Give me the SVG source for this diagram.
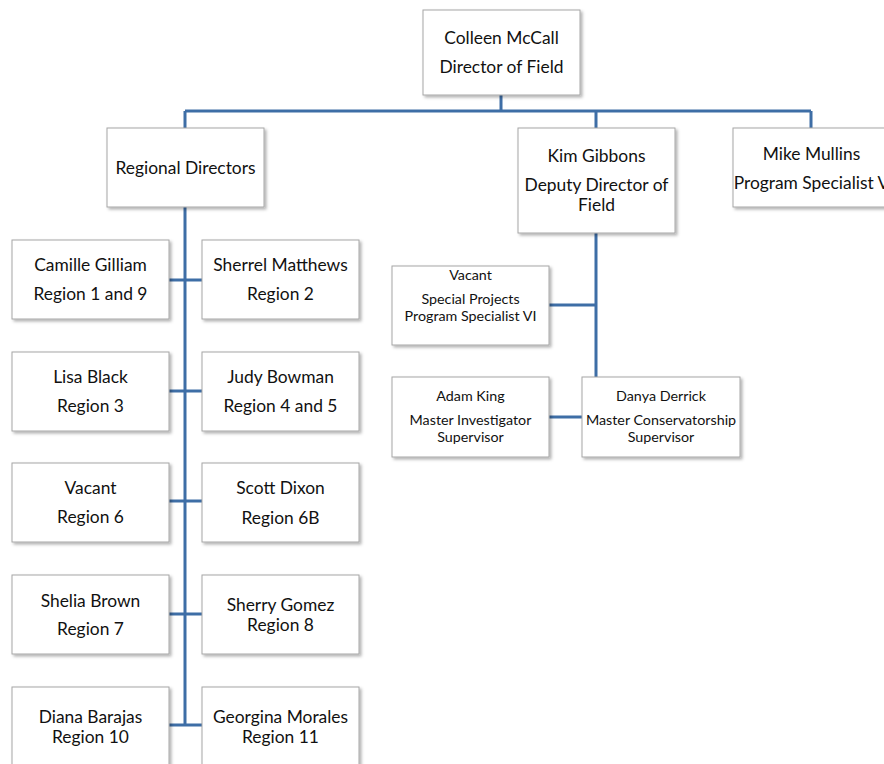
<svg xmlns="http://www.w3.org/2000/svg" width="884" height="764" viewBox="0 0 884 764">
<style>
.box{fill:#fff;stroke:#a6a6a6;stroke-width:1;filter:url(#sh)}
.t{font-family:Lato,"Liberation Sans",sans-serif;font-size:17.4px;fill:#111;text-anchor:middle}
.s{font-family:Lato,"Liberation Sans",sans-serif;font-size:14.3px;fill:#111;text-anchor:middle}
.c{stroke:#3e6ea6;stroke-width:3;fill:none}
</style>
<defs>
<filter id="sh" x="-10%" y="-10%" width="130%" height="130%">
<feDropShadow dx="2" dy="2" stdDeviation="1.5" flood-color="#000" flood-opacity="0.3"/>
</filter>
</defs>
<rect width="884" height="764" fill="#fff"/>
<g id="connectors">
<path class="c" d="M501 95V111M185 111H811M185 111V128M596 111V128M811 111V128"/>
<path class="c" d="M185 207V725M169 280H202M169 391H202M169 501H202M169 614H202M169 725H202"/>
<path class="c" d="M596 233V377M549 305H596M549 417H582"/>
</g>
<g id="n-colleen"><rect class="box" x="423" y="10" width="157" height="85"/><text class="t" x="501.5" y="44">Colleen McCall</text><text class="t" x="501.5" y="73">Director of Field</text></g>
<g id="n-regional"><rect class="box" x="107" y="128" width="157" height="79"/><text class="t" x="185.5" y="174">Regional Directors</text></g>
<g id="n-kim"><rect class="box" x="518" y="128" width="157" height="105"/><text class="t" x="596.5" y="162">Kim Gibbons</text><text class="t" x="596.5" y="191">Deputy Director of</text><text class="t" x="596.5" y="211">Field</text></g>
<g id="n-mike"><rect class="box" x="733" y="128" width="157" height="79"/><text class="t" x="811.5" y="160">Mike Mullins</text><text class="t" x="811.5" y="189">Program Specialist V</text></g>
<g id="n-camille"><rect class="box" x="12" y="240" width="157" height="79"/><text class="t" x="90.5" y="271">Camille Gilliam</text><text class="t" x="90.5" y="300">Region 1 and 9</text></g>
<g id="n-sherrel"><rect class="box" x="202" y="240" width="157" height="79"/><text class="t" x="280.5" y="271">Sherrel Matthews</text><text class="t" x="280.5" y="300">Region 2</text></g>
<g id="n-lisa"><rect class="box" x="12" y="352" width="157" height="79"/><text class="t" x="90.5" y="383">Lisa Black</text><text class="t" x="90.5" y="412">Region 3</text></g>
<g id="n-judy"><rect class="box" x="202" y="352" width="157" height="79"/><text class="t" x="280.5" y="383">Judy Bowman</text><text class="t" x="280.5" y="412">Region 4 and 5</text></g>
<g id="n-vacant6"><rect class="box" x="12" y="463" width="157" height="79"/><text class="t" x="90.5" y="494">Vacant</text><text class="t" x="90.5" y="523">Region 6</text></g>
<g id="n-scott"><rect class="box" x="202" y="463" width="157" height="79"/><text class="t" x="280.5" y="494">Scott Dixon</text><text class="t" x="280.5" y="524">Region 6B</text></g>
<g id="n-shelia"><rect class="box" x="12" y="575" width="157" height="79"/><text class="t" x="90.5" y="607">Shelia Brown</text><text class="t" x="90.5" y="635">Region 7</text></g>
<g id="n-sherry"><rect class="box" x="202" y="575" width="157" height="79"/><text class="t" x="280.5" y="611">Sherry Gomez</text><text class="t" x="280.5" y="631">Region 8</text></g>
<g id="n-diana"><rect class="box" x="12" y="687" width="157" height="85"/><text class="t" x="90.5" y="723">Diana Barajas</text><text class="t" x="90.5" y="743">Region 10</text></g>
<g id="n-georgina"><rect class="box" x="202" y="687" width="157" height="85"/><text class="t" x="280.5" y="723">Georgina Morales</text><text class="t" x="280.5" y="743">Region 11</text></g>
<g id="n-vacantsp"><rect class="box" x="392" y="266" width="157" height="79"/><text class="s" x="470.5" y="280">Vacant</text><text class="s" x="470.5" y="304">Special Projects</text><text class="s" x="470.5" y="321">Program Specialist VI</text></g>
<g id="n-adam"><rect class="box" x="392" y="377" width="157" height="80"/><text class="s" x="470.5" y="401">Adam King</text><text class="s" x="470.5" y="425">Master Investigator</text><text class="s" x="470.5" y="442">Supervisor</text></g>
<g id="n-danya"><rect class="box" x="582" y="377" width="158" height="80"/><text class="s" x="661" y="401">Danya Derrick</text><text class="s" x="661" y="425">Master Conservatorship</text><text class="s" x="661" y="442">Supervisor</text></g>
</svg>
